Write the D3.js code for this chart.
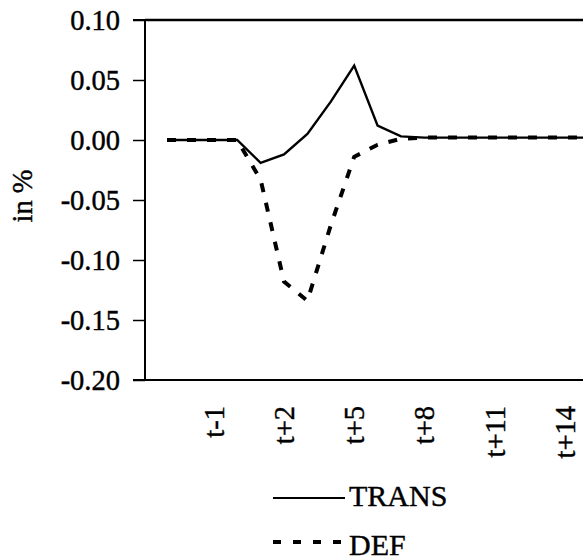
<!DOCTYPE html>
<html lang="en">
<head>
<meta charset="utf-8">
<title>TRANS vs DEF</title>
<script src="https://d3js.org/d3.v7.min.js"></script>
<style>
  body { margin: 0; background: #fff; }
  svg text { font-family: "Liberation Serif", "Times New Roman", serif; fill: #000; stroke: #000; stroke-width: 0.4px; }
</style>
</head>
<body>
<div id="chart"></div>
<script>
// periods t-3 ... t+15
const periods = ["t-3","t-2","t-1","t+0","t+1","t+2","t+3","t+4","t+5","t+6","t+7","t+8","t+9","t+10","t+11","t+12","t+13","t+14","t+15"];
const xTickLabels = ["t-1","t+2","t+5","t+8","t+11","t+14"];
const yTicks = [0.10, 0.05, 0.00, -0.05, -0.10, -0.15, -0.20];
const yTickLabels = ["0.10","0.05","0.00","-0.05","-0.10","-0.15","-0.20"];

const trans = [0, 0, 0, 0, -0.019, -0.012, 0.005, 0.032, 0.062, 0.012, 0.003, 0.002, 0.002, 0.002, 0.002, 0.002, 0.002, 0.002, 0.002];
const def   = [0, 0, 0, 0, -0.033, -0.118, -0.134, -0.071, -0.014, -0.004, 0.001, 0.002, 0.002, 0.002, 0.002, 0.002, 0.002, 0.002, 0.002];

const width = 583, height = 560;
const plotLeft = 145, plotTop = 20, plotBottom = 380;

const svg = d3.select("#chart").append("svg")
    .attr("width", width)
    .attr("height", height);

const x = d3.scalePoint()
    .domain(periods)
    .range([167, 167 + 18 * 23.4]);

const y = d3.scaleLinear()
    .domain([-0.20, 0.10])
    .range([plotBottom, plotTop]);

// frame: top and bottom lines run off the right edge
svg.append("line")
    .attr("x1", plotLeft).attr("x2", width)
    .attr("y1", plotTop).attr("y2", plotTop)
    .attr("stroke", "#000").attr("stroke-width", 2.5);
svg.append("line")
    .attr("x1", plotLeft).attr("x2", width)
    .attr("y1", plotBottom).attr("y2", plotBottom)
    .attr("stroke", "#000").attr("stroke-width", 2.2);

// y axis
const yAxis = svg.append("g")
    .attr("transform", `translate(${plotLeft},0)`)
    .call(d3.axisLeft(y)
        .tickValues(yTicks)
        .tickFormat((d, i) => yTickLabels[i])
        .tickSize(12)
        .tickPadding(13));
yAxis.select(".domain").attr("stroke-width", 2).attr("d", `M-12,${plotTop}H0V${plotBottom}H-12`);
yAxis.selectAll(".tick line").attr("stroke-width", 1.5);
yAxis.selectAll("text").attr("font-size", 28.5);

// x axis labels (no tick marks)
const xAxis = svg.append("g")
    .attr("transform", `translate(0,${plotBottom})`)
    .call(d3.axisBottom(x)
        .tickValues(xTickLabels)
        .tickSize(0));
xAxis.select(".domain").remove();
xAxis.selectAll("text")
    .attr("font-size", 28.5)
    .attr("text-anchor", "end")
    .attr("transform", "rotate(-90)")
    .attr("x", -26)
    .attr("y", 0)
    .attr("dy", "0.33em");

// y axis title
svg.append("text")
    .attr("transform", `translate(32,${(plotTop + plotBottom) / 2 - 4}) rotate(-90)`)
    .attr("text-anchor", "middle")
    .attr("font-size", 28.5)
    .text("in %");

const line = d3.line()
    .x((d, i) => x(periods[i]))
    .y(d => y(d));

svg.append("path")
    .datum(def)
    .attr("fill", "none")
    .attr("stroke", "#000")
    .attr("stroke-width", 4)
    .attr("stroke-dasharray", "9,11")
    .attr("d", line);

svg.append("path")
    .datum(trans)
    .attr("fill", "none")
    .attr("stroke", "#000")
    .attr("stroke-width", 2.4)
    .attr("d", line);

// legend
const legend = svg.append("g");
legend.append("line")
    .attr("x1", 273).attr("x2", 345)
    .attr("y1", 498).attr("y2", 498)
    .attr("stroke", "#000").attr("stroke-width", 2);
legend.append("text")
    .attr("x", 349).attr("y", 506)
    .attr("font-size", 30)
    .text("TRANS");
legend.append("line")
    .attr("x1", 273).attr("x2", 345)
    .attr("y1", 542).attr("y2", 542)
    .attr("stroke", "#000").attr("stroke-width", 4)
    .attr("stroke-dasharray", "8,12");
legend.append("text")
    .attr("x", 349).attr("y", 555)
    .attr("font-size", 30)
    .text("DEF");
</script>
</body>
</html>
